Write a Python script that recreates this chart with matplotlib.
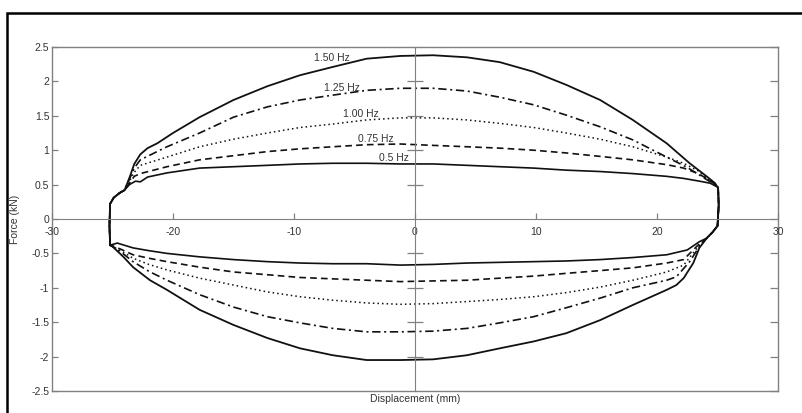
import matplotlib
matplotlib.use("Agg")
import matplotlib.pyplot as plt
from matplotlib.patches import Rectangle

plt.rcParams['font.family'] = ['Liberation Sans', 'DejaVu Sans']

# ---- data (displacement mm, force kN) ----
# 1.50 Hz
x_up_150 = [-25.2, -25.25, -25.2, -24.9, -24.4, -24.0, -23.6, -23.2, -22.7, -22.1, -21.3, -20.0, -17.8,
            -15.0, -12.2, -9.5, -6.8, -4.0, -1.2, 1.5, 4.3, 7.0, 9.8, 12.5, 15.3, 18.0, 20.8, 22.7,
            24.1, 24.8, 25.05]
f_up_150 = [-0.38, -0.1, 0.22, 0.31, 0.38, 0.42, 0.6, 0.8, 0.94, 1.03, 1.10, 1.25, 1.48,
            1.73, 1.93, 2.09, 2.21, 2.33, 2.37, 2.38, 2.35, 2.28, 2.14, 1.95, 1.73, 1.44, 1.10, 0.81,
            0.62, 0.52, 0.45]
x_lo_150 = [25.1, 25.0, 24.6, 24.1, 23.5, 23.0, 22.2, 21.6, 20.8, 18.0, 15.3, 12.5, 9.8, 7.0, 4.3,
            1.5, -1.2, -4.0, -6.8, -9.5, -12.2, -15.0, -17.8, -20.5, -21.9, -23.3, -24.1, -25.0, -25.2]
f_lo_150 = [0.2, -0.1, -0.19, -0.28, -0.42, -0.64, -0.86, -0.96, -1.03, -1.25, -1.47, -1.66, -1.78,
            -1.88, -1.98, -2.04, -2.05, -2.05, -1.98, -1.88, -1.73, -1.54, -1.32, -1.03, -0.89, -0.70,
            -0.55, -0.40, -0.38]

# 1.25 Hz
x_up_125 = [-25.2, -25.25, -25.2, -24.9, -24.4, -24.0, -23.6, -23.2, -22.7, -20.5, -17.8, -15.0, -12.2,
            -9.5, -6.8, -4.0, -1.2, 1.5, 4.3, 7.0, 9.8, 12.5, 15.3, 18.0, 20.8, 22.5, 23.5, 24.4, 25.05]
f_up_125 = [-0.38, -0.1, 0.22, 0.31, 0.38, 0.42, 0.58, 0.74, 0.86, 1.05, 1.25, 1.48, 1.63,
            1.73, 1.80, 1.87, 1.90, 1.90, 1.86, 1.77, 1.66, 1.51, 1.34, 1.15, 0.90, 0.75, 0.64, 0.54, 0.46]
x_lo_125 = [25.1, 25.0, 24.6, 24.1, 23.5, 22.7, 21.6, 20.8, 18.0, 15.3, 12.5, 9.8, 7.0, 4.3, 1.5,
            -1.2, -4.0, -6.8, -9.5, -12.2, -15.0, -17.8, -20.5, -22.0, -23.3, -24.3, -25.0, -25.2]
f_lo_125 = [0.2, -0.1, -0.19, -0.28, -0.40, -0.62, -0.84, -0.89, -1.0, -1.15, -1.29, -1.42, -1.51,
            -1.59, -1.63, -1.64, -1.64, -1.59, -1.51, -1.42, -1.28, -1.10, -0.89, -0.76, -0.62, -0.48,
            -0.40, -0.38]

# 1.00 Hz
x_up_100 = [-25.2, -25.25, -25.2, -24.9, -24.4, -24.0, -23.6, -23.2, -22.7, -20.5, -17.8, -15.0, -12.2,
            -9.5, -6.8, -4.0, -1.2, 1.5, 4.3, 7.0, 9.8, 12.5, 15.3, 18.0, 20.8, 22.2, 23.4, 24.4, 25.05]
f_up_100 = [-0.38, -0.1, 0.22, 0.31, 0.38, 0.42, 0.55, 0.68, 0.78, 0.90, 1.05, 1.16, 1.25,
            1.33, 1.38, 1.44, 1.47, 1.47, 1.44, 1.39, 1.33, 1.25, 1.16, 1.05, 0.90, 0.81, 0.70, 0.56, 0.46]
x_lo_100 = [25.1, 25.0, 24.6, 24.1, 23.5, 22.2, 20.8, 18.0, 15.3, 12.5, 9.8, 7.0, 4.3, 1.5, -1.2,
            -4.0, -6.8, -9.5, -12.2, -15.0, -17.8, -20.5, -22.0, -23.3, -24.3, -25.0, -25.2]
f_lo_100 = [0.2, -0.1, -0.19, -0.28, -0.38, -0.67, -0.77, -0.89, -0.99, -1.07, -1.13, -1.17, -1.20,
            -1.23, -1.24, -1.22, -1.18, -1.13, -1.06, -0.96, -0.86, -0.74, -0.66, -0.57, -0.46, -0.40,
            -0.38]

# 0.75 Hz
x_up_075 = x_up_100
f_up_075 = [-0.38, -0.1, 0.22, 0.31, 0.38, 0.42, 0.52, 0.62, 0.66, 0.76, 0.86, 0.92, 0.98,
            1.02, 1.05, 1.08, 1.09, 1.07, 1.05, 1.03, 1.00, 0.96, 0.91, 0.86, 0.79, 0.74, 0.66, 0.56, 0.46]
x_lo_075 = x_lo_100
f_lo_075 = [0.2, -0.1, -0.19, -0.28, -0.36, -0.59, -0.64, -0.71, -0.75, -0.79, -0.83, -0.86, -0.89,
            -0.90, -0.91, -0.89, -0.87, -0.85, -0.81, -0.77, -0.70, -0.62, -0.57, -0.52, -0.44, -0.39,
            -0.38]

# 0.5 Hz
x_up_050 = [-25.2, -25.25, -25.2, -24.9, -24.4, -24.0, -23.6, -23.1, -22.7, -22.1, -20.5, -17.8, -15.0,
            -12.2, -9.5, -6.8, -4.0, -1.2, 1.5, 4.3, 7.0, 9.8, 12.5, 15.3, 18.0, 20.8, 22.2, 23.5,
            24.4, 25.05]
f_up_050 = [-0.38, -0.1, 0.22, 0.31, 0.38, 0.42, 0.50, 0.55, 0.54, 0.61, 0.67, 0.74, 0.76,
            0.78, 0.80, 0.81, 0.81, 0.80, 0.80, 0.78, 0.76, 0.74, 0.71, 0.69, 0.66, 0.62, 0.59, 0.55,
            0.52, 0.46]
x_lo_050 = [25.1, 25.0, 24.6, 24.1, 23.5, 22.5, 20.8, 18.0, 15.3, 12.5, 9.8, 7.0, 4.3, 1.5, -1.2,
            -4.0, -6.8, -9.5, -12.2, -15.0, -17.8, -20.5, -22.0, -23.3, -24.6, -25.2]
f_lo_050 = [0.2, -0.1, -0.19, -0.28, -0.33, -0.45, -0.52, -0.56, -0.59, -0.61, -0.62, -0.63, -0.64,
            -0.66, -0.67, -0.65, -0.65, -0.64, -0.62, -0.59, -0.55, -0.50, -0.46, -0.42, -0.35, -0.38]

freq_labels = ['1.50 Hz', '1.25 Hz', '1.00 Hz', '0.75 Hz', '0.5 Hz']
label_x = [-6.9, -6.0, -4.5, -3.2, -1.7]
label_y = [2.34, 1.90, 1.53, 1.16, 0.89]

x_ticks = [-30, -20, -10, 0, 10, 20, 30]
y_ticks = [2.5, 2, 1.5, 1, 0.5, 0, -0.5, -1, -1.5, -2, -2.5]
y_tick_labels = ['2.5', '2', '1.5', '1', '0.5', '0', '-0.5', '-1', '-1.5', '-2', '-2.5']
center_y_ticks = [2, 1.5, 1, 0.5, -0.5, -1, -1.5, -2]

gray = '#808080'
ink = '#111111'
txt = '#333333'
fs = 7.5

fig = plt.figure(figsize=(8.03, 4.13), dpi=100)
rect = [52 / 803, 22 / 413, 726 / 803, 344 / 413]

# box axes with the force scale on the left
ax = fig.add_axes(rect)
ax.set_xlim(-30, 30)
ax.set_ylim(-2.5, 2.5)
for s in ax.spines.values():
    s.set_color(gray)
    s.set_linewidth(1.0)
ax.set_xticks([])
ax.set_yticks(y_ticks)
ax.set_yticklabels(y_tick_labels)
ax.tick_params(axis='y', direction='in', length=4, width=0.9, color=gray, left=True, right=True,
               labelsize=fs, labelcolor=txt, pad=2)
for t in ax.yaxis.get_major_ticks():
    t.tick2line.set_markersize(6)
ax.set_ylabel('Force (kN)', fontsize=fs, color=txt)
ax.yaxis.set_label_coords(-0.044, 0.5)
ax.set_xlabel('Displacement (mm)', fontsize=fs, color=txt)
ax.xaxis.set_label_coords(0.5, -0.01)

# axes crossing at the origin
axc = fig.add_axes(rect, facecolor='none')
axc.set_xlim(-30, 30)
axc.set_ylim(-2.5, 2.5)
axc.spines['top'].set_visible(False)
axc.spines['right'].set_visible(False)
axc.spines['left'].set_position(('data', 0))
axc.spines['bottom'].set_position(('data', 0))
axc.spines['left'].set_color(gray)
axc.spines['bottom'].set_color(gray)
axc.set_xticks(x_ticks)
axc.set_xticklabels([str(v) for v in x_ticks])
axc.tick_params(axis='x', direction='in', length=4, width=0.9, color=gray, labelsize=fs,
                labelcolor=txt, pad=5.5)
axc.set_yticks(center_y_ticks)
axc.set_yticklabels([])
axc.tick_params(axis='y', direction='inout', length=11, width=0.9, color=gray)

# hysteresis loops
styles = [
    (x_up_150, f_up_150, x_lo_150, f_lo_150, '-', 1.3),
    (x_up_125, f_up_125, x_lo_125, f_lo_125, (0, (5, 2.2, 1.2, 2.2)), 1.2),
    (x_up_100, f_up_100, x_lo_100, f_lo_100, (0, (1, 2)), 1.1),
    (x_up_075, f_up_075, x_lo_075, f_lo_075, (0, (4, 2.5)), 1.2),
    (x_up_050, f_up_050, x_lo_050, f_lo_050, '-', 1.2),
]
for xu, fu, xl, fl, ls, lw in styles:
    axc.plot(xu + xl, fu + fl, color=ink, linestyle=ls, linewidth=lw)

for lab, lx, ly in zip(freq_labels, label_x, label_y):
    axc.text(lx, ly, lab, fontsize=fs, color=txt, ha='center', va='center')

# outer frame
fig.add_artist(Rectangle((7 / 803, -0.05), 1.2, (413 - 13) / 413 + 0.05, transform=fig.transFigure,
                         fill=False, edgecolor='black', linewidth=1.8))

fig.savefig('out.png', dpi=100)
